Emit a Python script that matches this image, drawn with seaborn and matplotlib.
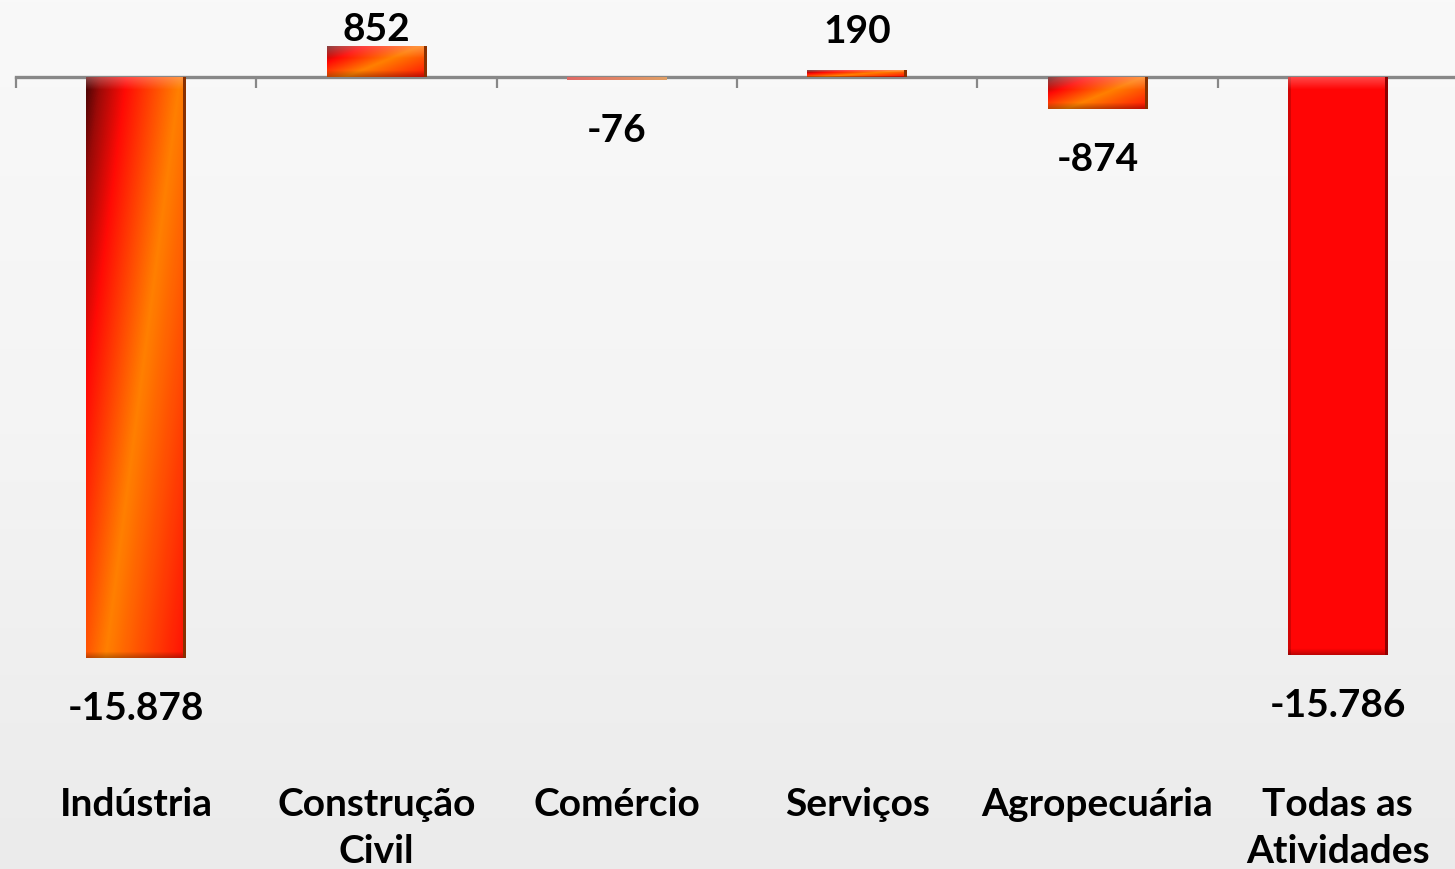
import numpy as np
import pandas as pd
import matplotlib
matplotlib.use("Agg")
import matplotlib.pyplot as plt
import matplotlib.transforms as mtransforms
import seaborn as sns
from matplotlib.colors import LinearSegmentedColormap, to_rgb

# dados do gráfico (saldo de empregos por setor)
categorias = ["Indústria", "Construção\nCivil", "Comércio", "Serviços", "Agropecuária", "Todas as\nAtividades"]
saldos = [-15878, 852, -76, 190, -874, -15786]
estilos = ["gradiente", "gradiente", "gradiente", "gradiente", "gradiente", "vermelho"]

W, H, DPI = 1455, 870, 100

sns.set_theme(style="white")
plt.rcParams["font.family"] = ["Lato", "DejaVu Sans"]

fig = plt.figure(figsize=(W / DPI, H / DPI), dpi=DPI)

# fundo cinza claro com leve degradê vertical
bg = fig.add_axes([0, 0, 1, 1], zorder=0)
bg_cmap = LinearSegmentedColormap.from_list("bg", ["#f9f9f9", "#f4f4f4", "#ebebeb"])
bg.imshow(np.linspace(0, 1, 256).reshape(-1, 1), cmap=bg_cmap, aspect="auto",
          extent=(0, 1, 0, 1), origin="upper")
bg.set_axis_off()

ax = fig.add_axes([16 / W, 0, 1442 / W, 1], zorder=1)
ax.patch.set_alpha(0)

df = pd.DataFrame({"setor": categorias, "saldo": saldos})
sns.barplot(data=df, x="setor", y="saldo", width=0.415, color="red", ax=ax)

ymax = 78 / 0.03659
ymin = -(H - 78) / 0.03659
ax.set_xlim(-0.5, 5.5)
ax.set_ylim(ymin, ymax)

grad_cmap = LinearSegmentedColormap.from_list(
    "grad", [(0.0, "#4a0505"), (0.08, "#9a0a08"), (0.23, "#ff0a05"),
             (0.54, "#ff8000"), (1.0, "#ff1005")])


def imagem_barra(wpx, hpx, estilo):
    x = np.linspace(0, 1, wpx)[None, :]
    d = np.linspace(0, 1, hpx)[:, None]
    if estilo == "gradiente":
        u = (x + 0.75 * d) / 1.75
        img = grad_cmap(np.clip(u, 0, 1))[..., :3]
        right_col = np.array(to_rgb("#8a3000"))
    else:
        img = np.ones((hpx, wpx, 3)) * np.array(to_rgb("#ff0505"))
        right_col = np.array(to_rgb("#900000"))
        img[:, :3] = img[:, :3] * 0.82
    if hpx < 6:
        # barra muito fina: tom claro, sem bisel
        x1 = np.broadcast_to(x, (hpx, wpx))
        cor = np.array(to_rgb("#e06a66")) * (1 - x1[..., None]) + np.array(to_rgb("#e0a066")) * x1[..., None]
        return np.clip(cor, 0, 1)
    rows = np.arange(hpx)[:, None]
    cols = np.arange(wpx)[None, :]
    # bisel: faixa clara em cima, escura embaixo e na direita
    top = min(12, max(1, int(hpx * 0.4)))
    luz = np.clip(1 - rows / top, 0, 1) * 0.35
    luz = np.broadcast_to(luz, (hpx, wpx))[..., None]
    img = img * (1 - luz) + luz * np.array([1.0, 0.75, 0.75])
    bot = min(6, max(1, int(hpx * 0.2)))
    som = np.clip(1 - (hpx - 1 - rows) / bot, 0, 1) * 0.25
    som = np.broadcast_to(som, (hpx, wpx))[..., None]
    img = img * (1 - som)
    borda = (cols >= wpx - 3)
    borda = np.broadcast_to(borda, (hpx, wpx))
    img[borda] = right_col
    return np.clip(img, 0, 1)


for patch, estilo in zip(ax.patches, estilos):
    bb = patch.get_bbox()
    x0, x1 = min(bb.x0, bb.x1), max(bb.x0, bb.x1)
    y0, y1 = min(bb.y0, bb.y1), max(bb.y0, bb.y1)
    p0 = ax.transData.transform((x0, y0))
    p1 = ax.transData.transform((x1, y1))
    wpx = max(2, int(round(p1[0] - p0[0])))
    hpx = max(2, int(round(p1[1] - p0[1])))
    patch.set_facecolor("none")
    patch.set_edgecolor("none")
    im = ax.imshow(imagem_barra(wpx, hpx, estilo), extent=(x0, x1, y0, y1),
                   origin="upper", aspect="auto", interpolation="bilinear", zorder=2)
    im.set_clip_path(patch)

ax.set_xlim(-0.5, 5.5)
ax.set_ylim(ymin, ymax)

# eixo horizontal no zero com marcas entre as categorias
for lado in ["top", "right", "left"]:
    ax.spines[lado].set_visible(False)
ax.spines["bottom"].set_position(("data", 0))
ax.spines["bottom"].set_color("#888888")
ax.spines["bottom"].set_linewidth(2.4)
ax.spines["bottom"].set_zorder(1)
ax.set_xticks(np.arange(-0.5, 6, 1))
ax.set_xticklabels([])
ax.tick_params(axis="x", direction="out", length=8, width=1.6, color="#888888", bottom=True)
ax.set_yticks([])
ax.set_xlabel("")
ax.set_ylabel("")

# rótulos de valor
for i, v in enumerate(saldos):
    texto = f"{v:,}".replace(",", ".")
    yb = ax.transData.transform((i, v))[1]
    if v >= 0:
        alvo = min(yb + 28, H - 41)
        ax.annotate(texto, xy=(i, v), xytext=(0, alvo - yb), textcoords="offset pixels",
                    ha="center", va="baseline", fontsize=28, fontweight="bold", color="black")
    else:
        ax.annotate(texto, xy=(i, v), xytext=(0, -32), textcoords="offset pixels",
                    ha="center", va="top", fontsize=28, fontweight="bold", color="black")

# nomes das categorias
trans = mtransforms.blended_transform_factory(ax.transData, ax.transAxes)
for i, nome in enumerate(categorias):
    ax.text(i, 1 - 787 / H, nome, transform=trans, ha="center", va="top",
            fontsize=28, fontweight="bold", color="black", linespacing=1.42)

fig.savefig("out.png", dpi=DPI)
